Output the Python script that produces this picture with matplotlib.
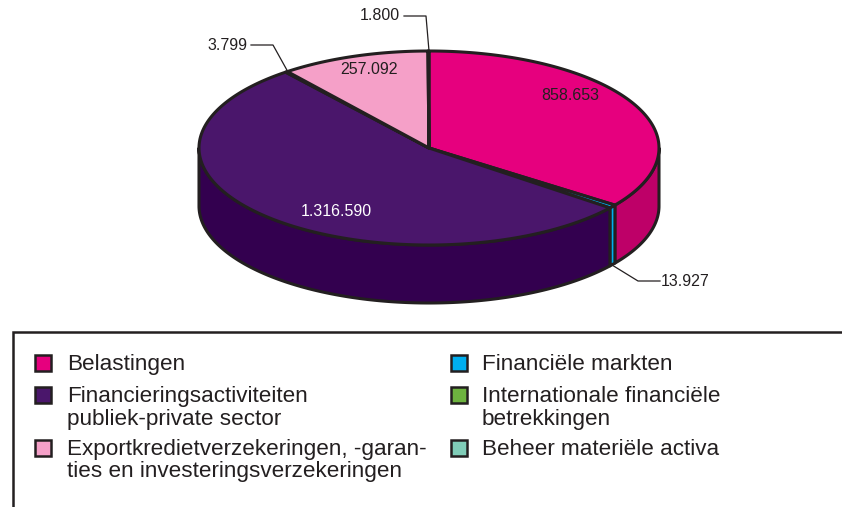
import numpy as np
import matplotlib.pyplot as plt
from matplotlib.patches import Polygon, Rectangle

plt.rcParams['font.family'] = ['Liberation Sans', 'DejaVu Sans']

# slices, clockwise from 12 o'clock
values = [858653, 13927, 1316590, 3799, 257092, 1800]
top_colors = ['#E6007E', '#00AEEF', '#4A166B', '#6DB33F', '#F5A0C8', '#80CDB8']
side_colors = ['#BE0068', '#00AEEF', '#33004F', '#6DB33F', '#F5A0C8', '#80CDB8']
inside_labels = ['858.653', None, '1.316.590', None, '257.092', None]
inside_colors = ['#231F20', None, 'white', None, '#231F20', None]
inside_pos = [(570, 95), None, (336, 211), None, (369, 69), None]

legend_left = [('Belastingen', '#E6007E', 363), ('Financieringsactiviteiten\npubliek-private sector', '#4A166B', 395),
               ('Exportkredietverzekeringen, -garan-\nties en investeringsverzekeringen', '#F5A0C8', 448)]
legend_right = [('Financiële markten', '#00AEEF', 363), ('Internationale financiële\nbetrekkingen', '#6DB33F', 395),
                ('Beheer materiële activa', '#80CDB8', 448)]

DARK = '#231F20'
cx, cy, rx, ry, depth = 429, 148, 230, 97, 58
LW = 2.2


def rim(a, b, drop=0):
    t = np.radians(np.linspace(a, b, max(int(abs(b - a)) * 2, 2)))
    return np.column_stack([cx + rx * np.sin(t), cy - ry * np.cos(t) + drop])


fig = plt.figure(figsize=(8.42, 5.07), dpi=100)
ax = fig.add_axes([0, 0, 1, 1])
ax.set_xlim(0, 842)
ax.set_ylim(507, 0)
ax.axis('off')

edges = np.concatenate([[0], np.cumsum(values) / np.sum(values) * 360])

# walls (only the front half of the rim is visible)
for a, b, c in zip(edges[:-1], edges[1:], side_colors):
    a2, b2 = max(a, 90), min(b, 270)
    if b2 <= a2:
        continue
    pts = np.vstack([rim(a2, b2), rim(b2, a2, depth)])
    ax.add_patch(Polygon(pts, closed=True, fc=c, ec=DARK, lw=LW, joinstyle='round', zorder=2))

# top face
for a, b, c in zip(edges[:-1], edges[1:], top_colors):
    pts = np.vstack([[cx, cy], rim(a, b)])
    ax.add_patch(Polygon(pts, closed=True, fc=c, ec=DARK, lw=LW, joinstyle='round', zorder=3))

for lab, col, pos in zip(inside_labels, inside_colors, inside_pos):
    if lab:
        ax.text(pos[0], pos[1], lab, color=col, fontsize=11.5, ha='center', va='center', zorder=5)

# leader lines
ax.plot([429, 426, 404], [51, 16, 16], color=DARK, lw=0.9, zorder=4)
ax.plot([288, 273, 251], [72, 45, 45], color=DARK, lw=0.9, zorder=4)
ax.plot([612, 638, 660], [265, 281, 281], color=DARK, lw=0.9, zorder=4)
ax.text(400, 16, '1.800', color=DARK, fontsize=11.5, ha='right', va='center')
ax.text(247, 45, '3.799', color=DARK, fontsize=11.5, ha='right', va='center')
ax.text(661, 281, '13.927', color=DARK, fontsize=11.5, ha='left', va='center')

# legend box, open at the right and bottom
ax.plot([13, 13, 842], [507, 332, 332], color=DARK, lw=1.8, solid_joinstyle='miter')

for entries, xs, xt in [(legend_left, 35, 67), (legend_right, 451, 482)]:
    for label, c, y in entries:
        ax.add_patch(Rectangle((xs, y - 8), 16, 16, fc=c, ec=DARK, lw=1.8))
        for i, line in enumerate(label.split('\n')):
            ax.text(xt, y + 7 + i * 22.5, line, color=DARK, fontsize=16.2, ha='left', va='baseline')

fig.savefig('out.png', dpi=100)
